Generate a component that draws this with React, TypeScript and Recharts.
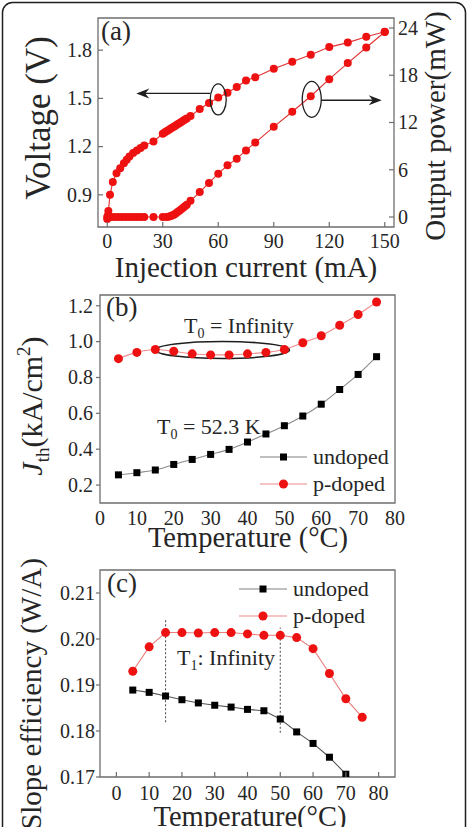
import React from 'react';
import {
  LineChart,
  Line,
  XAxis,
  YAxis,
  ReferenceArea,
  ReferenceDot,
  ReferenceLine,
  Legend,
} from 'recharts';

const SERIF = "'Liberation Serif', 'Times New Roman', 'DejaVu Serif', serif";
const AXIS = '#6e6e6e';
const INK = '#1e1e1e';
const RED = '#ee1111';

// ---------- (a) voltage and output power versus injection current ----------
const currentForVoltage = [
  0, 0.3, 0.6, 1.5, 3, 5, 7, 9, 10.5, 12, 14, 16, 18, 20, 25, 30, 31, 32, 33, 34, 35, 36, 37,
  38, 39, 40, 41, 42, 43, 45, 50, 55, 60, 65, 70, 75, 80, 90, 100, 110, 120, 130, 140, 150,
];
const voltage = [
  0.75, 0.77, 0.8, 0.9, 0.98, 1.035, 1.066, 1.097, 1.118, 1.139, 1.16, 1.176, 1.191, 1.207, 1.232,
  1.28, 1.288, 1.295, 1.302, 1.31, 1.317, 1.324, 1.332, 1.339, 1.346, 1.353, 1.361, 1.368, 1.375,
  1.39, 1.434, 1.471, 1.505, 1.535, 1.571, 1.611, 1.632, 1.684, 1.728, 1.772, 1.819, 1.847, 1.883,
  1.914,
];
const currentForPower = [
  0, 2, 4, 6, 8, 10, 12, 14, 16, 18, 20, 25, 30, 32, 33, 34, 35, 36, 37, 38, 39, 40, 41, 42, 43,
  45, 50, 55, 60, 65, 70, 75, 80, 90, 100, 110, 120, 130, 140, 150,
];
const outputPower = [
  0, 0, 0, 0, 0, 0, 0, 0, 0, 0, 0, 0, 0, 0, 0.02, 0.08, 0.18, 0.3, 0.45, 0.62, 0.8, 0.98, 1.17,
  1.36, 1.55, 2.05, 3.17, 4.32, 5.5, 6.56, 7.41, 8.46, 9.45, 11.45, 13.37, 15.33, 17.5, 19.55,
  21.52, 23.49,
];
const currentTicks = [0, 30, 60, 90, 120, 150];
const voltageTicks = [0.9, 1.2, 1.5, 1.8];
const powerTicks = [0, 6, 12, 18, 24];

// ---------- (b) threshold current density versus temperature ----------
const temperatures = [5, 10, 15, 20, 25, 30, 35, 40, 45, 50, 55, 60, 65, 70, 75];
const jthUndoped = [
  0.257, 0.269, 0.284, 0.315, 0.343, 0.371, 0.399, 0.44, 0.485, 0.531, 0.585, 0.651, 0.733, 0.817,
  0.916,
];
const jthPdoped = [
  0.905, 0.94, 0.956, 0.946, 0.932, 0.926, 0.926, 0.932, 0.94, 0.956, 0.994, 1.033, 1.091, 1.151,
  1.221,
];
const jthTicks = [0.2, 0.4, 0.6, 0.8, 1.0, 1.2];

// ---------- (c) slope efficiency versus temperature ----------
const slopeUndoped = [
  0.1889, 0.1884, 0.1876, 0.1868, 0.1861, 0.1856, 0.1852, 0.1847, 0.1844, 0.1826, 0.1798, 0.1773,
  0.1743, 0.1706,
];
const slopePdoped = [
  0.193, 0.1983, 0.2014, 0.2014, 0.2013, 0.2014, 0.2014, 0.2011, 0.2008, 0.2008, 0.2003, 0.1979,
  0.1925, 0.187, 0.183,
];
const slopeTicks = [0.17, 0.18, 0.19, 0.2, 0.21];
const temperatureTicks = [0, 10, 20, 30, 40, 50, 60, 70, 80];

const seriesOrder = ['undoped', 'pdoped'];
const seriesNames = { undoped: 'undoped', pdoped: 'p-doped' };

const voltageRows = currentForVoltage.map((i, k) => ({ i, v: voltage[k] }));
const powerRows = currentForPower.map((i, k) => ({ i, p: outputPower[k] }));
const jthRows = temperatures.map((t, k) => ({ t, undoped: jthUndoped[k], pdoped: jthPdoped[k] }));
const slopeRows = temperatures.map((t, k) => ({ t, undoped: slopeUndoped[k], pdoped: slopePdoped[k] }));

// ---------- axis tick renderers (tickSize/tickMargin are 0, so x/y sit on the axis line) ----------
type TickSpec = {
  side: 'left' | 'right' | 'bottom';
  inward: boolean;
  len: number;
  gap: number;
  fmt: (v: number) => string;
  size?: number;
};

const makeTick = (spec: TickSpec) => (props: any) => {
  const { x, y, payload } = props;
  const size = spec.size ?? 20;
  const label = spec.fmt(Number(payload.value));
  const common = { fontFamily: SERIF, fontSize: size, fill: '#262626' };
  if (spec.side === 'left') {
    const x2 = spec.inward ? x + spec.len : x - spec.len;
    const tx = (spec.inward ? x : x - spec.len) - spec.gap;
    return (
      <g>
        <line x1={x} y1={y} x2={x2} y2={y} stroke={AXIS} strokeWidth={1.2} />
        <text x={tx} y={y} dy={size * 0.34} textAnchor="end" {...common}>
          {label}
        </text>
      </g>
    );
  }
  if (spec.side === 'right') {
    const x2 = spec.inward ? x - spec.len : x + spec.len;
    const tx = (spec.inward ? x : x + spec.len) + spec.gap;
    return (
      <g>
        <line x1={x} y1={y} x2={x2} y2={y} stroke={AXIS} strokeWidth={1.2} />
        <text x={tx} y={y} dy={size * 0.34} textAnchor="start" {...common}>
          {label}
        </text>
      </g>
    );
  }
  const y2 = spec.inward ? y - spec.len : y + spec.len;
  return (
    <g>
      {spec.len > 0 && <line x1={x} y1={y} x2={x} y2={y2} stroke={AXIS} strokeWidth={1.2} />}
      <text x={x} y={y + spec.gap} textAnchor="middle" {...common}>
        {label}
      </text>
    </g>
  );
};

const fmtInt = (v: number) => String(Math.round(v));
const fmt1 = (v: number) => v.toFixed(1);
const fmt2 = (v: number) => v.toFixed(2);

// ---------- markers ----------
const squareDot = (size: number, color: string) => (p: any) => {
  const key = `sq-${p.index}`;
  if (p.cx == null || p.cy == null || p.value == null || Number.isNaN(p.cy)) return <g key={key} />;
  return <rect key={key} x={p.cx - size / 2} y={p.cy - size / 2} width={size} height={size} fill={color} />;
};

const ArrowHead = ({ x, y, dir }: { x: number; y: number; dir: 1 | -1 }) => {
  // dir = -1 points left, 1 points right; (x, y) is the tip
  const b = x - dir * 13;
  const n = x - dir * 9;
  return <polygon points={`${x},${y} ${b},${y - 5} ${n},${y} ${b},${y + 5}`} fill={INK} />;
};

// ellipse around the voltage curve with an arrow pointing to the voltage axis
const VoltageCallout = (p: any) => (
  <g>
    <ellipse cx={p.cx} cy={p.cy + 1} rx={8} ry={15.5} fill="none" stroke={INK} strokeWidth={1.3} />
    <line x1={p.cx - 8} y1={p.cy - 5} x2={p.cx - 78} y2={p.cy - 5} stroke={INK} strokeWidth={1.4} />
    <ArrowHead x={p.cx - 82} y={p.cy - 5} dir={-1} />
  </g>
);

// ellipse around the power curve with an arrow pointing to the power axis
const PowerCallout = (p: any) => (
  <g>
    <ellipse cx={p.cx + 1} cy={p.cy + 3} rx={9.5} ry={18} fill="none" stroke={INK} strokeWidth={1.3} />
    <line x1={p.cx + 10.5} y1={p.cy + 4} x2={p.cx + 66} y2={p.cy + 4} stroke={INK} strokeWidth={1.4} />
    <ArrowHead x={p.cx + 71} y={p.cy + 4} dir={1} />
  </g>
);

const FlatRegionEllipse = (p: any) => (
  <ellipse cx={p.cx} cy={p.cy} rx={67} ry={8.5} fill="none" stroke={INK} strokeWidth={1.6} />
);

// ---------- legend ----------
const legendStyles: Record<string, { line: string; kind: 'square' | 'circle'; fill: string }> = {
  undoped: { line: '#808080', kind: 'square', fill: '#000' },
  pdoped: { line: '#ef8a8a', kind: 'circle', fill: RED },
};

const makeLegend = (lineLen: number) => (props: any) => {
  const items: any[] = [...(props.payload ?? [])].sort(
    (a, b) => seriesOrder.indexOf(String(a.dataKey)) - seriesOrder.indexOf(String(b.dataKey)),
  );
  return (
    <svg width={190} height={56} style={{ display: 'block', overflow: 'visible' }}>
      {items.map((it, k) => {
        const st = legendStyles[String(it.dataKey)] ?? legendStyles.undoped;
        const y = 12 + k * 27;
        const mid = 5 + lineLen / 2;
        return (
          <g key={String(it.dataKey)}>
            <line x1={5} y1={y} x2={5 + lineLen} y2={y} stroke={st.line} strokeWidth={1.2} />
            {st.kind === 'square' ? (
              <rect x={mid - 3.5} y={y - 3.5} width={7} height={7} fill={st.fill} />
            ) : (
              <circle cx={mid} cy={y} r={4.5} fill={st.fill} />
            )}
            <text x={lineLen + 11} y={y} dy={7} fontFamily={SERIF} fontSize={22} fill="#262626">
              {it.value}
            </text>
          </g>
        );
      })}
    </svg>
  );
};

const T = (size: number) => ({ fontFamily: SERIF, fontSize: size, fill: '#262626' });

export default function App() {
  return (
    <div
      style={{
        position: 'absolute',
        left: 0,
        top: 0,
        width: 467,
        height: 827,
        background: '#fff',
        overflow: 'hidden',
        fontFamily: SERIF,
      }}
    >
      {/* (a) L-I-V */}
      <div style={{ position: 'absolute', left: 0, top: 0 }}>
        <LineChart width={467} height={290} margin={{ top: 18, right: 0, bottom: 0, left: 0 }}>
          <XAxis
            type="number"
            dataKey="i"
            domain={[-5, 155]}
            ticks={currentTicks}
            allowDataOverflow
            height={63}
            axisLine={false}
            tickLine={false}
            tickSize={0}
            tickMargin={0}
            tick={makeTick({ side: 'bottom', inward: true, len: 5, gap: 21, fmt: fmtInt })}
          />
          <YAxis
            yAxisId="v"
            type="number"
            domain={[0.7, 2.0]}
            ticks={voltageTicks}
            allowDataOverflow
            width={98}
            axisLine={false}
            tickLine={false}
            tickSize={0}
            tickMargin={0}
            tick={makeTick({ side: 'left', inward: true, len: 5, gap: 6, fmt: fmt1 })}
          />
          <YAxis
            yAxisId="p"
            orientation="right"
            type="number"
            domain={[-1.27, 25.27]}
            ticks={powerTicks}
            allowDataOverflow
            width={73}
            axisLine={false}
            tickLine={false}
            tickSize={0}
            tickMargin={0}
            tick={makeTick({ side: 'right', inward: true, len: 5, gap: 4, fmt: fmtInt })}
          />
          <ReferenceArea
            yAxisId="v"
            x1={-5}
            x2={155}
            y1={0.7}
            y2={2.0}
            fill="none"
            stroke={AXIS}
            strokeWidth={1.3}
            ifOverflow="visible"
          />
          <Line
            yAxisId="v"
            data={voltageRows}
            dataKey="v"
            type="linear"
            stroke="#e23030"
            strokeWidth={1.1}
            dot={{ r: 4, fill: RED, stroke: 'none' }}
            isAnimationActive={false}
          />
          <Line
            yAxisId="p"
            data={powerRows}
            dataKey="p"
            type="linear"
            stroke="#e23030"
            strokeWidth={1.1}
            dot={{ r: 4, fill: RED, stroke: 'none' }}
            isAnimationActive={false}
          />
          <ReferenceDot yAxisId="v" x={60} y={1.5} shape={VoltageCallout} ifOverflow="visible" />
          <ReferenceDot yAxisId="p" x={110} y={15.33} shape={PowerCallout} ifOverflow="visible" />
        </LineChart>
      </div>

      {/* (b) threshold current density */}
      <div style={{ position: 'absolute', left: 0, top: 280 }}>
        <LineChart width={467} height={280} data={jthRows} margin={{ top: 15, right: 72, bottom: 0, left: 0 }}>
          <XAxis
            type="number"
            dataKey="t"
            domain={[0, 80]}
            ticks={temperatureTicks}
            allowDataOverflow
            height={57}
            axisLine={false}
            tickLine={false}
            tickSize={0}
            tickMargin={0}
            tick={makeTick({ side: 'bottom', inward: false, len: 0, gap: 22, fmt: fmtInt })}
          />
          <YAxis
            type="number"
            domain={[0.1, 1.26]}
            ticks={jthTicks}
            allowDataOverflow
            width={100}
            axisLine={false}
            tickLine={false}
            tickSize={0}
            tickMargin={0}
            tick={makeTick({ side: 'left', inward: false, len: 4, gap: 3, fmt: fmt1 })}
          />
          <ReferenceArea x1={0} x2={80} y1={0.1} y2={1.26} fill="none" stroke={AXIS} strokeWidth={1.3} ifOverflow="visible" />
          <Line
            dataKey="undoped"
            name={seriesNames.undoped}
            type="monotone"
            stroke="#8a8a8a"
            strokeWidth={1.1}
            dot={squareDot(7, '#000')}
            isAnimationActive={false}
          />
          <Line
            dataKey="pdoped"
            name={seriesNames.pdoped}
            type="monotone"
            stroke="#f08c8c"
            strokeWidth={1.1}
            dot={{ r: 4.5, fill: RED, stroke: 'none' }}
            isAnimationActive={false}
          />
          <ReferenceDot x={33.2} y={0.953} shape={FlatRegionEllipse} ifOverflow="visible" />
          <Legend
            layout="vertical"
            align="center"
            verticalAlign="middle"
            content={makeLegend(47)}
            wrapperStyle={{ left: 255, top: 165, width: 190, height: 56 }}
          />
        </LineChart>
      </div>

      {/* (c) slope efficiency */}
      <div style={{ position: 'absolute', left: 0, top: 560 }}>
        <LineChart width={467} height={267} data={slopeRows} margin={{ top: 10, right: 72, bottom: 0, left: 0 }}>
          <XAxis
            type="number"
            dataKey="t"
            domain={[-5, 85]}
            ticks={temperatureTicks}
            allowDataOverflow
            height={50}
            axisLine={false}
            tickLine={false}
            tickSize={0}
            tickMargin={0}
            tick={makeTick({ side: 'bottom', inward: true, len: 5, gap: 23, fmt: fmtInt })}
          />
          <YAxis
            type="number"
            domain={[0.17, 0.215]}
            ticks={slopeTicks}
            allowDataOverflow
            width={100}
            axisLine={false}
            tickLine={false}
            tickSize={0}
            tickMargin={0}
            tick={makeTick({ side: 'left', inward: false, len: 4, gap: 1, fmt: fmt2 })}
          />
          <ReferenceArea x1={-5} x2={85} y1={0.17} y2={0.215} fill="none" stroke={AXIS} strokeWidth={1.3} ifOverflow="visible" />
          <ReferenceLine
            segment={[
              { x: 15, y: 0.1819 },
              { x: 15, y: 0.2041 },
            ]}
            stroke="#555"
            strokeWidth={1.1}
            strokeDasharray="2 2"
          />
          <ReferenceLine
            segment={[
              { x: 50, y: 0.1796 },
              { x: 50, y: 0.2025 },
            ]}
            stroke="#555"
            strokeWidth={1.1}
            strokeDasharray="2 2"
          />
          <Line
            dataKey="undoped"
            name={seriesNames.undoped}
            type="linear"
            stroke="#555"
            strokeWidth={1.1}
            dot={squareDot(7, '#000')}
            isAnimationActive={false}
          />
          <Line
            dataKey="pdoped"
            name={seriesNames.pdoped}
            type="linear"
            stroke="#ec7c7c"
            strokeWidth={1.1}
            dot={{ r: 4.5, fill: RED, stroke: 'none' }}
            isAnimationActive={false}
          />
          <Legend
            layout="vertical"
            align="center"
            verticalAlign="middle"
            content={makeLegend(48)}
            wrapperStyle={{ left: 234, top: 17, width: 190, height: 56 }}
          />
        </LineChart>
      </div>

      {/* frame, axis titles, panel letters and annotations */}
      <svg
        width={467}
        height={827}
        style={{ position: 'absolute', left: 0, top: 0, pointerEvents: 'none' }}
        fontFamily={SERIF}
      >
        <rect x={2.5} y={2.5} width={463} height={850} rx={10} fill="none" stroke={INK} strokeWidth={1.5} />

        {/* (a) */}
        <text x={101} y={40} {...T(27)}>(a)</text>
        <text x={246} y={277} textAnchor="middle" {...T(29)}>Injection current (mA)</text>
        <text transform="translate(50,118) rotate(-90)" textAnchor="middle" {...T(35)}>
          Voltage (V)
        </text>
        <text transform="translate(445,126) rotate(-90)" textAnchor="middle" {...T(29)}>
          Output power(mW)
        </text>

        {/* (b) */}
        <text x={106} y={316} {...T(27)}>(b)</text>
        <text x={248} y={547} textAnchor="middle" {...T(28.5)}>Temperature (°C)</text>
        <text transform="translate(42,406) rotate(-90)" textAnchor="middle" {...T(30)}>
          <tspan fontStyle="italic">J</tspan>
          <tspan dy={7} fontSize={19}>th</tspan>
          <tspan dy={-7}>(kA/cm</tspan>
          <tspan dy={-12} fontSize={19}>2</tspan>
          <tspan dy={12}>)</tspan>
        </text>
        <text x={184} y={333} {...T(22)}>
          T<tspan dy={5} fontSize={14}>0</tspan>
          <tspan dy={-5}> = Infinity</tspan>
        </text>
        <text x={157} y={434} {...T(22)}>
          T<tspan dy={5} fontSize={14}>0</tspan>
          <tspan dy={-5}> = 52.3 K</tspan>
        </text>

        {/* (c) */}
        <text x={107} y={592} {...T(27)}>(c)</text>
        <text x={250} y={826} textAnchor="middle" {...T(28.5)}>Temperature(°C)</text>
        <text transform="translate(41,694) rotate(-90)" textAnchor="middle" {...T(29)}>
          Slope efficiency (W/A)
        </text>
        <text x={177} y={665} {...T(22)}>
          T<tspan dy={5} fontSize={14}>1</tspan>
          <tspan dy={-5}>: Infinity</tspan>
        </text>
      </svg>
    </div>
  );
}
